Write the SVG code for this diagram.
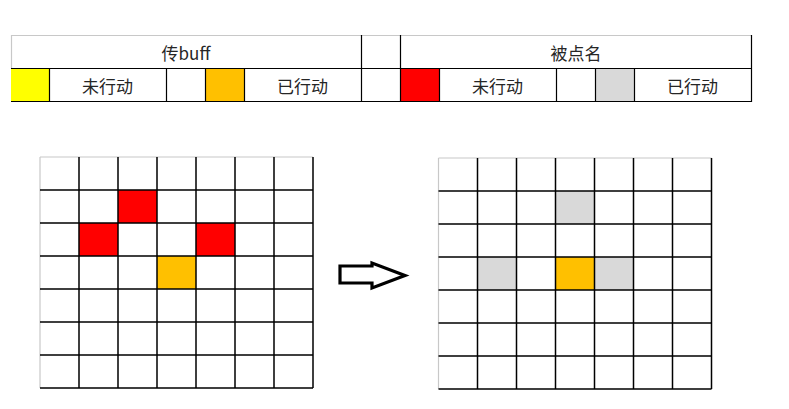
<svg xmlns="http://www.w3.org/2000/svg" width="789" height="409" viewBox="0 0 789 409">
<style>
.ln{stroke:#000;stroke-width:1.2;fill:none}
.gl{stroke:#c8c8c8;stroke-width:1.2;fill:none}
.grid{stroke:#000;stroke-width:1.5;fill:none}
.txt{font-family:"Noto Sans CJK SC","Microsoft YaHei","Noto Sans",sans-serif;font-size:17px;fill:#262626;text-anchor:middle;dominant-baseline:central}
.yellow{fill:#FFFF00}
.orange{fill:#FFC000}
.red{fill:#FF0000}
.gray{fill:#D9D9D9}
</style>
<rect width="789" height="409" fill="#fff"/>
<g id="legend">
  <rect class="yellow" x="11" y="69" width="38" height="32"/>
  <rect class="orange" x="205" y="69" width="39" height="32"/>
  <rect class="red" x="401" y="69" width="38" height="32"/>
  <rect class="gray" x="595" y="69" width="39" height="32"/>
  <path class="gl" d="M11 35.5H751.5M11.5 35V69"/>
  <path class="ln" d="M11 68.5H752M11 101.5H752M361.5 35V102M400.5 35V102M751.5 35V102M49.5 68V102M166.5 68V102M205.5 68V102M244.5 68V102M439.5 68V102M556.5 68V102M595.5 68V102M634.5 68V102"/>
  <text class="txt" x="186" y="52">传buff</text>
  <text class="txt" x="576" y="52">被点名</text>
  <text class="txt" x="107.5" y="85.5">未行动</text>
  <text class="txt" x="302.5" y="85.5">已行动</text>
  <text class="txt" x="497.5" y="85.5">未行动</text>
  <text class="txt" x="692.5" y="85.5">已行动</text>
</g>
<g id="grid-before">
  <rect class="red" x="118" y="190" width="39" height="33"/>
  <rect class="red" x="79" y="223" width="39" height="33"/>
  <rect class="red" x="196" y="223" width="39" height="33"/>
  <rect class="orange" x="157" y="256" width="39" height="33"/>
  <path class="gl" d="M40 157H313M40 157V388"/>
  <path class="grid" d="M40 190H313M40 223H313M40 256H313M40 289H313M40 322H313M40 355H313M40 388H313M79 157V388M118 157V388M157 157V388M196 157V388M235 157V388M274 157V388M313 157V388"/>
</g>
<g id="grid-after">
  <rect class="gray" x="555.5" y="191" width="39" height="33"/>
  <rect class="gray" x="477.5" y="257" width="39" height="33"/>
  <rect class="gray" x="594.5" y="257" width="39" height="33"/>
  <rect class="orange" x="555.5" y="257" width="39" height="33"/>
  <path class="gl" d="M438.5 158H711.5M438.5 158V389"/>
  <path class="grid" d="M438.5 191H711.5M438.5 224H711.5M438.5 257H711.5M438.5 290H711.5M438.5 323H711.5M438.5 356H711.5M438.5 389H711.5M477.5 158V389M516.5 158V389M555.5 158V389M594.5 158V389M633.5 158V389M672.5 158V389M711.5 158V389"/>
</g>
<g id="connectors">
  <polygon points="340,266 372,266 372,263 405,275.5 372,288 372,283 340,283" fill="#fff" stroke="#000" stroke-width="3.2" stroke-linejoin="miter"/>
</g>
</svg>
